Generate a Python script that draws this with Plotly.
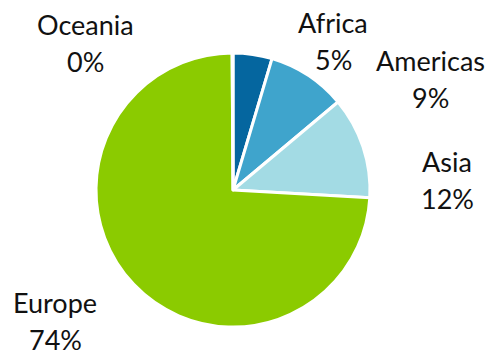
import plotly.graph_objects as go

regions = ["Africa", "Americas", "Asia", "Europe", "Oceania"]
shares = [4.6, 9.3, 12.0, 74.0, 0.1]
colors = ["#05669f", "#3fa4cc", "#a3dbe4", "#8bcb00", "#1f4e79"]

# label block centres (pixels) in a 485x351 canvas
label_pos = {
    "Africa": (333, 41),
    "Americas": (430, 79),
    "Asia": (447, 180),
    "Europe": (55, 321),
    "Oceania": (85, 43),
}
W, H = 485, 351
line_gap = 37
font = dict(family="Lato, Open Sans, sans-serif", size=27, color="#111111")

total = sum(shares)
fig = go.Figure(go.Pie(
    labels=regions, values=shares, sort=False, direction="clockwise",
    rotation=0, marker=dict(colors=colors, line=dict(color="white", width=3)),
    textinfo="none", hoverinfo="label+percent", showlegend=False,
    domain=dict(x=[96 / W, 370 / W], y=[1 - 327 / H, 1 - 53 / H]),
))

anns = []
for r, v in zip(regions, shares):
    cx, cy = label_pos[r]
    pct = f"{round(v / total * 100)}%"
    for txt, dy in ((r, -line_gap / 2), (pct, line_gap / 2)):
        anns.append(dict(text=txt, x=cx / W, y=1 - (cy + dy) / H, xref="paper", yref="paper",
                         showarrow=False, font=font, xanchor="center", yanchor="middle"))

fig.update_layout(width=W, height=H, margin=dict(l=0, r=0, t=0, b=0),
                  paper_bgcolor="white", plot_bgcolor="white", annotations=anns)
fig.write_html("out.html")
